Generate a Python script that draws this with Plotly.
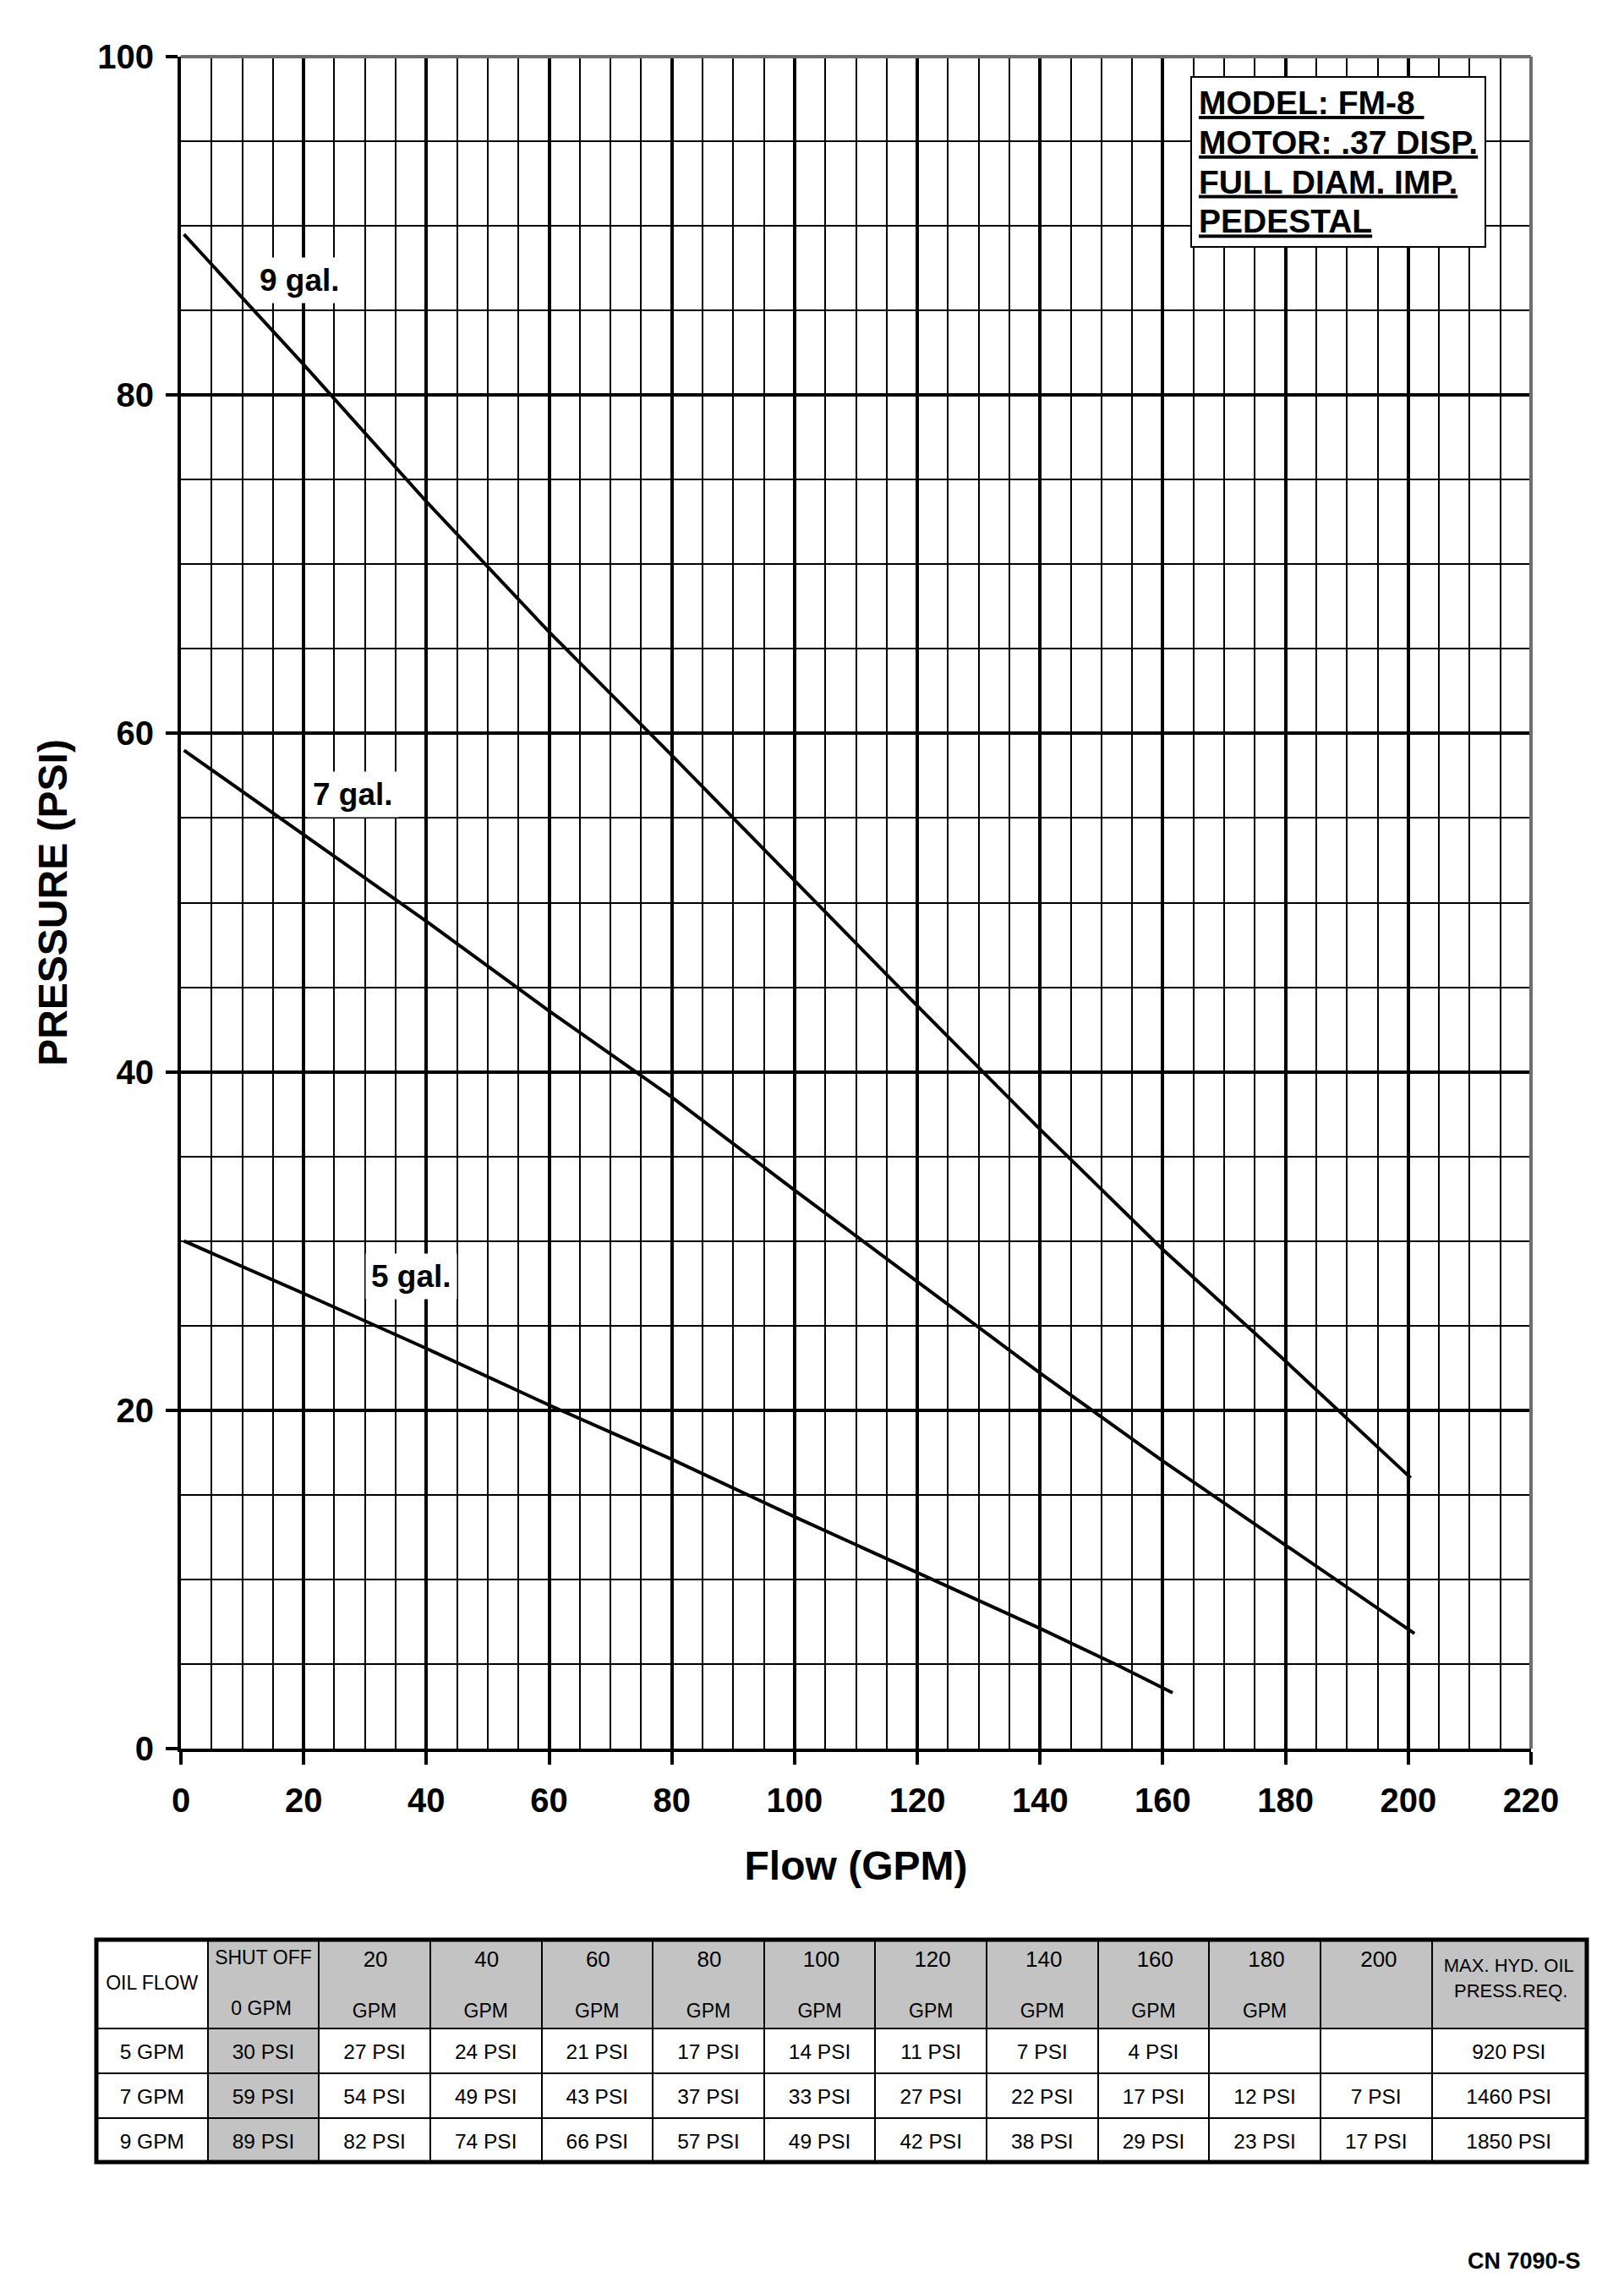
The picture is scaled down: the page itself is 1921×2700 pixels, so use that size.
import plotly.graph_objects as go

# pump curves: flow (GPM) -> pressure (PSI)
gpm_9 = [0.5, 20, 40, 60, 80, 100, 120, 140, 160, 180, 200.4]
psi_9 = [89.5, 81.8, 73.7, 66.0, 58.7, 51.3, 43.9, 36.6, 29.5, 22.9, 16.0]
gpm_7 = [0.5, 20, 40, 60, 80, 100, 120, 140, 160, 180, 201]
psi_7 = [59.0, 54.0, 48.9, 43.6, 38.5, 33.0, 27.6, 22.2, 17.0, 12.0, 6.8]
gpm_5 = [0.5, 20, 40, 60, 80, 100, 120, 140, 152.8, 161.6]
psi_5 = [30.0, 26.9, 23.65, 20.3, 17.1, 13.7, 10.4, 7.1, 4.9, 3.3]

curve_names = ["9 gal.", "7 gal.", "5 gal."]

# table under the chart
table_flows = [20, 40, 60, 80, 100, 120, 140, 160, 180, 200]
oil_flows = [5, 7, 9]
shutoff = [30, 59, 89]
tbl_5 = [27, 24, 21, 17, 14, 11, 7, 4, None, None]
tbl_7 = [54, 49, 43, 37, 33, 27, 22, 17, 12, 7]
tbl_9 = [82, 74, 66, 57, 49, 42, 38, 29, 23, 17]
max_press = [920, 1460, 1850]

model_lines = ["MODEL: FM-8 ", "MOTOR: .37 DISP.", "FULL DIAM. IMP.", "PEDESTAL"]

FONT = "Liberation Sans, Arial, sans-serif"
GRAY = "#c3c3c3"
CLEAR = "rgba(0,0,0,0)"
NB = "\u00a0"

# page has an 8px body margin, so the figure is a bit smaller than the window
W, H = 1905, 2684


def px(ax):
    return (ax - 8) / W


def py(ay):
    return 1 - (ay - 8) / H


def psi(v):
    return "" if v is None else f"{v} PSI"


fig = go.Figure()

for xs, ys in [(gpm_9, psi_9), (gpm_7, psi_7), (gpm_5, psi_5)]:
    fig.add_trace(go.Scatter(x=xs, y=ys, mode="lines",
                             line=dict(color="black", width=4),
                             hoverinfo="skip", showlegend=False))

# curve labels with white boxes that hide the grid
for name, lx, ly in zip(curve_names, [19.4, 28.1, 37.5], [86.8, 56.4, 27.9]):
    fig.add_annotation(x=lx, y=ly, text=name, showarrow=False,
                       font=dict(family=FONT, size=37, color="black", weight="bold"),
                       bgcolor="white", borderpad=6)

model_text = "<br>".join(f"<span style='font-size:39px'>{s}</span>" for s in model_lines)
fig.add_annotation(x=164.5, y=98.85, xanchor="left", yanchor="top", align="left",
                   text=model_text, showarrow=False,
                   font=dict(family=FONT, size=36, color="black", weight="bold",
                             lineposition="under"),
                   bgcolor="white", bordercolor="black", borderwidth=2, borderpad=8)

# table: header lines are left-aligned inside a centred block by plotly,
# so shorter lines get a few non-breaking spaces in front
header = [NB + "<br>OIL FLOW", "SHUT OFF<br><br>" + NB * 3 + "0 GPM"]
for f in table_flows:
    pad = NB * (2 if f < 100 else 1)
    num = pad + f"<span style='font-size:26px'>{f}</span>"
    header.append(num + "<br>" if f == 200 else num + "<br><br>GPM")
max_header = "<span style='font-size:22px'>MAX. HYD. OIL<br>" + NB * 2 + "PRESS.REQ.</span>"

cols = [[f"{o} GPM" for o in oil_flows], [psi(v) for v in shutoff]]
for i in range(len(table_flows)):
    cols.append([psi(tbl_5[i]), psi(tbl_7[i]), psi(tbl_9[i])])
cols.append([psi(v) for v in max_press])

ncol = len(cols)
hdr_fill = ["white"] + [GRAY] * (ncol - 1)
cell_fill = [["white"] * 3, [GRAY] * 3] + [["white"] * 3] * (ncol - 2)
widths = [132] * 12 + [183]

# grid, fills and most of the header text
fig.add_trace(go.Table(
    domain=dict(x=[px(114), px(1877)], y=[0.03, py(2294)]),
    columnwidth=widths,
    header=dict(values=header + [""], height=105, align="center",
                fill=dict(color=hdr_fill),
                line=dict(color="black", width=2),
                font=dict(family=FONT, size=23, color="black")),
    cells=dict(values=[[""] * 3] * ncol, height=53, align="center",
               fill=dict(color=cell_fill),
               line=dict(color="black", width=2),
               font=dict(family=FONT, size=24.5, color="black")),
))
# body text (and the last header), laid over the grid a little lower
fig.add_trace(go.Table(
    domain=dict(x=[px(114), px(1877)], y=[0.02, py(2304)]),
    columnwidth=widths,
    header=dict(values=[""] * (ncol - 1) + [max_header], height=105, align="center",
                fill=dict(color=CLEAR), line=dict(color=CLEAR, width=0),
                font=dict(family=FONT, size=23, color="black")),
    cells=dict(values=cols, height=53, align="center",
               fill=dict(color=CLEAR), line=dict(color=CLEAR, width=0),
               font=dict(family=FONT, size=24.5, color="black")),
))

fig.add_shape(type="rect", xref="paper", yref="paper",
              x0=px(114), x1=px(1877), y0=py(2557), y1=py(2294),
              line=dict(color="black", width=5))

# gray top/right frame of the grid
fig.add_shape(type="line", xref="x domain", yref="y domain", x0=1, x1=1, y0=0, y1=1,
              line=dict(color="#6e6e6e", width=4))
fig.add_shape(type="line", xref="x domain", yref="y domain", x0=0, x1=1, y0=1, y1=1,
              line=dict(color="#6e6e6e", width=4))

fig.add_annotation(xref="paper", yref="paper", x=px(1872), y=py(2674),
                   xanchor="right", yanchor="middle", text="CN 7090-S", showarrow=False,
                   font=dict(family=FONT, size=27, color="black", weight="bold"))

tickfont = dict(family=FONT, size=40, color="black", weight="bold")
titlefont = dict(family=FONT, size=48, color="black", weight="bold")

fig.update_xaxes(
    domain=[px(214), px(1811)], range=[0, 220], tick0=0, dtick=20,
    ticks="outside", ticklen=15, tickwidth=4, tickcolor="black",
    tickfont=tickfont, ticklabelstandoff=8,
    showgrid=True, gridcolor="black", gridwidth=4,
    minor=dict(dtick=5, showgrid=True, gridcolor="black", gridwidth=2, ticks=""),
    showline=True, linecolor="black", linewidth=4, zeroline=False,
    title=dict(text="Flow (GPM)", font=titlefont, standoff=40),
    automargin=False, fixedrange=True,
)
fig.update_yaxes(
    domain=[py(2068), py(67)], range=[0, 100], tick0=0, dtick=20,
    ticks="outside", ticklen=14, tickwidth=4, tickcolor="black",
    tickfont=tickfont, ticklabelstandoff=6,
    showgrid=True, gridcolor="black", gridwidth=4,
    minor=dict(dtick=5, showgrid=True, gridcolor="black", gridwidth=2, ticks=""),
    showline=True, linecolor="black", linewidth=4, zeroline=False,
    title=dict(text="PRESSURE (PSI)", font=titlefont, standoff=21),
    automargin=False, fixedrange=True,
)

fig.update_layout(
    width=W, height=H,
    margin=dict(l=0, r=0, t=0, b=0),
    paper_bgcolor="white", plot_bgcolor="white",
    showlegend=False,
    font=dict(family=FONT, color="black"),
)

fig.write_html("out.html")
